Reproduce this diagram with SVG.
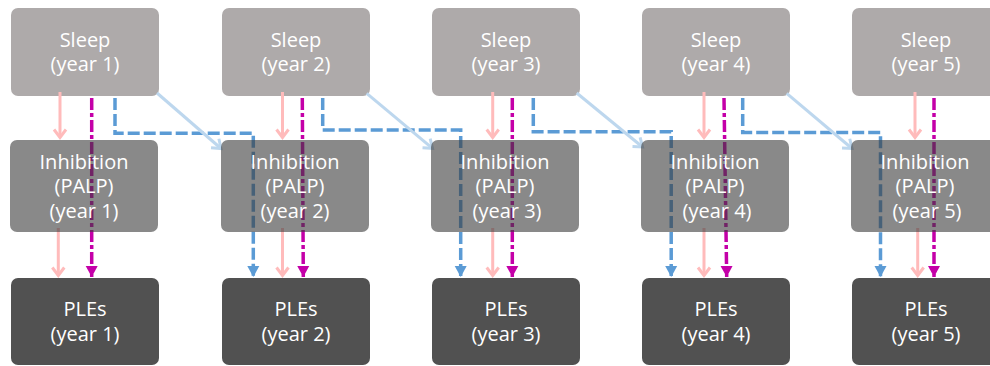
<svg xmlns="http://www.w3.org/2000/svg" width="990" height="366" viewBox="0 0 990 366">
<style>
  .sleep{fill:#AEAAAA}
  .inh{fill:#3a3a3a;fill-opacity:0.6}
  .ple{fill:#515151}
  text{font-family:"Open Sans","Liberation Sans",sans-serif;font-size:20px;fill:#ffffff;text-anchor:middle}
  .pink{stroke:#FFBBBB;stroke-width:3;fill:none;marker-end:url(#mPink)}
  .mag{stroke:#C400A8;stroke-width:3.5;fill:none;stroke-dasharray:12 3 4 3;marker-end:url(#mMag)}
  .blue{stroke:#5B9BD5;stroke-width:3.5;fill:none;stroke-dasharray:12 4;marker-end:url(#mBlue)}
  .lblue{stroke:#BDD7EE;stroke-width:3;fill:none;marker-end:url(#mLBlue)}
</style>
<defs>
  <marker id="mPink" markerUnits="userSpaceOnUse" orient="auto" refX="0" refY="0" markerWidth="20" markerHeight="20" overflow="visible">
    <path d="M-8,-6 L0,0 L-8,6" fill="none" stroke="#FFBBBB" stroke-width="3" stroke-linejoin="miter"/>
  </marker>
  <marker id="mLBlue" markerUnits="userSpaceOnUse" orient="auto" refX="0" refY="0" markerWidth="20" markerHeight="20" overflow="visible">
    <path d="M-8,-6 L0,0 L-8,6" fill="none" stroke="#BDD7EE" stroke-width="3" stroke-linejoin="miter"/>
  </marker>
  <marker id="mMag" markerUnits="userSpaceOnUse" orient="auto" refX="0" refY="0" markerWidth="20" markerHeight="20" overflow="visible">
    <path d="M-11,-6 L0,0 L-11,6 Z" fill="#C400A8"/>
  </marker>
  <marker id="mBlue" markerUnits="userSpaceOnUse" orient="auto" refX="0" refY="0" markerWidth="20" markerHeight="20" overflow="visible">
    <path d="M-11,-6 L0,0 L-11,6 Z" fill="#5B9BD5"/>
  </marker>
</defs>

<g id="sleep1"><rect class="sleep" x="11" y="8" width="148" height="88" rx="7"/><text x="85" y="46.5">Sleep</text><text x="85" y="71">(year 1)</text></g>
<g id="sleep2"><rect class="sleep" x="222" y="8" width="148" height="88" rx="7"/><text x="296" y="46.5">Sleep</text><text x="296" y="71">(year 2)</text></g>
<g id="sleep3"><rect class="sleep" x="432" y="8" width="148" height="88" rx="7"/><text x="506" y="46.5">Sleep</text><text x="506" y="71">(year 3)</text></g>
<g id="sleep4"><rect class="sleep" x="642" y="8" width="148" height="88" rx="7"/><text x="716" y="46.5">Sleep</text><text x="716" y="71">(year 4)</text></g>
<g id="sleep5"><rect class="sleep" x="852" y="8" width="148" height="88" rx="7"/><text x="926" y="46.5">Sleep</text><text x="926" y="71">(year 5)</text></g>

<g id="ples1"><rect class="ple" x="11" y="278" width="148" height="87" rx="7"/><text x="85" y="316">PLEs</text><text x="85" y="340.5">(year 1)</text></g>
<g id="ples2"><rect class="ple" x="222" y="278" width="148" height="87" rx="7"/><text x="296" y="316">PLEs</text><text x="296" y="340.5">(year 2)</text></g>
<g id="ples3"><rect class="ple" x="432" y="278" width="148" height="87" rx="7"/><text x="506" y="316">PLEs</text><text x="506" y="340.5">(year 3)</text></g>
<g id="ples4"><rect class="ple" x="642" y="278" width="148" height="87" rx="7"/><text x="716" y="316">PLEs</text><text x="716" y="340.5">(year 4)</text></g>
<g id="ples5"><rect class="ple" x="852" y="278" width="148" height="87" rx="7"/><text x="926" y="316">PLEs</text><text x="926" y="340.5">(year 5)</text></g>

<g id="connectors">
  <!-- sleep -> inhibition (same year) -->
  <path class="pink" d="M60,92 V137.5"/>
  <path class="pink" d="M282.5,92 V137.5"/>
  <path class="pink" d="M492.7,92 V137.5"/>
  <path class="pink" d="M704,92 V137.5"/>
  <path class="pink" d="M915,92 V137.5"/>
  <!-- inhibition -> PLEs (same year) -->
  <path class="pink" d="M58.3,228 V275.5"/>
  <path class="pink" d="M282.5,228 V275.5"/>
  <path class="pink" d="M492.7,228 V275.5"/>
  <path class="pink" d="M704,228 V275.5"/>
  <path class="pink" d="M917.7,228 V275.5"/>
  <!-- sleep -> PLEs (same year) -->
  <path class="mag" d="M91.7,98 V277"/>
  <path class="mag" d="M302.3,98 L303.3,277"/>
  <path class="mag" d="M512.3,98 V277"/>
  <path class="mag" d="M724,98 L726.7,277"/>
  <path class="mag" d="M934,98 V277"/>
  <!-- sleep -> PLEs (next year) -->
  <path class="blue" d="M115,98 V133.3 H253.3 V277"/>
  <path class="blue" d="M322.7,98 V130 H460.7 V277"/>
  <path class="blue" d="M533.3,98 V131.7 H671.2 V277"/>
  <path class="blue" d="M742.7,98 V132.5 H880.5 V277"/>
  <!-- sleep -> inhibition (next year) -->
  <path class="lblue" d="M157,93 L221,148.5"/>
  <path class="lblue" d="M366.7,93.3 L432.5,148.3"/>
  <path class="lblue" d="M576.7,93 L642.5,147"/>
  <path class="lblue" d="M786.7,93.3 L852,148.5"/>
</g>

<g id="inhibition1"><rect class="inh" x="10" y="140" width="148" height="92" rx="7"/><text x="84" y="168.5">Inhibition</text><text x="84" y="193">(PALP)</text><text x="84" y="217.5">(year 1)</text></g>
<g id="inhibition2"><rect class="inh" x="221" y="140" width="148" height="92" rx="7"/><text x="295" y="168.5">Inhibition</text><text x="295" y="193">(PALP)</text><text x="295" y="217.5">(year 2)</text></g>
<g id="inhibition3"><rect class="inh" x="431" y="140" width="148" height="92" rx="7"/><text x="505" y="168.5">Inhibition</text><text x="505" y="193">(PALP)</text><text x="507" y="217.5">(year 3)</text></g>
<g id="inhibition4"><rect class="inh" x="641" y="140" width="148" height="92" rx="7"/><text x="715" y="168.5">Inhibition</text><text x="715" y="193">(PALP)</text><text x="717" y="217.5">(year 4)</text></g>
<g id="inhibition5"><rect class="inh" x="851" y="140" width="148" height="92" rx="7"/><text x="925" y="168.5">Inhibition</text><text x="925" y="193">(PALP)</text><text x="927" y="217.5">(year 5)</text></g>
</svg>
